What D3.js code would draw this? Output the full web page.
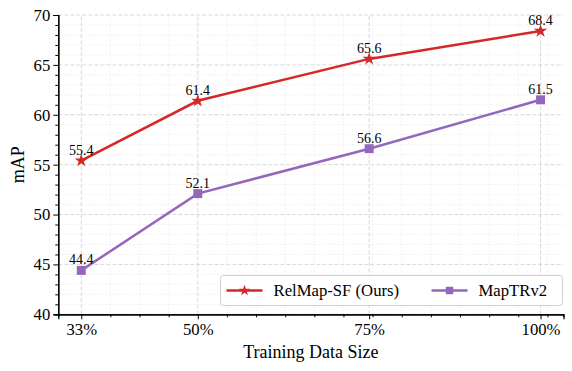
<!DOCTYPE html>
<html>
<head>
<meta charset="utf-8">
<script src="https://cdn.jsdelivr.net/npm/d3@7"></script>
<style>
body { margin: 0; background: #fff; }
text { font-family: "Liberation Serif", "Times New Roman", serif; fill: #000; }
</style>
</head>
<body>
<div id="chart"></div>
<script>
var width = 572, height = 371;
var margin = {left: 58.3, right: 8.5, top: 15, bottom: 56.7};

// data
var sizes = [33, 50, 75, 100];
var sizeLabels = ["33%", "50%", "75%", "100%"];
var relmap = [55.4, 61.4, 65.6, 68.4];
var maptr = [44.4, 52.1, 56.6, 61.5];
var yTicks = [40, 45, 50, 55, 60, 65, 70];
var seriesNames = ["RelMap-SF (Ours)", "MapTRv2"];
var seriesColors = ["#d62728", "#9467bd"];

var x = d3.scaleLinear().domain([29.65, 103.35]).range([margin.left, width - margin.right]);
var y = d3.scaleLinear().domain([40, 70]).range([height - margin.bottom, margin.top]);

var svg = d3.select("#chart").append("svg")
  .attr("width", width)
  .attr("height", height);

// minor ticks: x every quarter of first major step, y every 1
var xMinor = d3.range(33, 103.35, 4.25).filter(function(v) { return sizes.indexOf(v) < 0; });
var yMinor = d3.range(40, 70.01, 1).filter(function(v) { return v % 5 !== 0; });

var grid = svg.append("g");
grid.selectAll(".xmin").data(xMinor).enter().append("line")
  .attr("x1", function(d) { return x(d); }).attr("x2", function(d) { return x(d); })
  .attr("y1", y(40)).attr("y2", y(70))
  .attr("stroke", "#e3e3e3").attr("stroke-width", 0.8).attr("stroke-dasharray", "1,2");
grid.selectAll(".ymin").data(yMinor).enter().append("line")
  .attr("x1", x.range()[0]).attr("x2", x.range()[1])
  .attr("y1", function(d) { return y(d); }).attr("y2", function(d) { return y(d); })
  .attr("stroke", "#e3e3e3").attr("stroke-width", 0.8).attr("stroke-dasharray", "1,2");
grid.selectAll(".xmaj").data(sizes).enter().append("line")
  .attr("x1", function(d) { return x(d); }).attr("x2", function(d) { return x(d); })
  .attr("y1", y(40)).attr("y2", y(70))
  .attr("stroke", "#cfcfcf").attr("stroke-width", 0.8).attr("stroke-dasharray", "4,2");
grid.selectAll(".ymaj").data(yTicks).enter().append("line")
  .attr("x1", x.range()[0]).attr("x2", x.range()[1])
  .attr("y1", function(d) { return y(d); }).attr("y2", function(d) { return y(d); })
  .attr("stroke", "#cfcfcf").attr("stroke-width", 0.8).attr("stroke-dasharray", "4,2");

// axes
svg.append("g")
  .attr("transform", "translate(0," + y(40) + ")")
  .call(d3.axisBottom(x).tickValues(sizes).tickFormat(function(d, i) { return sizeLabels[i]; }).tickSizeOuter(0).tickSize(5).tickPadding(4));
svg.append("g")
  .attr("transform", "translate(0," + y(40) + ")")
  .call(d3.axisBottom(x).tickValues(xMinor).tickFormat("").tickSizeOuter(0).tickSize(3));
svg.append("g")
  .attr("transform", "translate(" + x.range()[0] + ",0)")
  .call(d3.axisLeft(y).tickValues(yTicks).tickSizeOuter(0).tickSize(5).tickPadding(3));
svg.append("g")
  .attr("transform", "translate(" + x.range()[0] + ",0)")
  .call(d3.axisLeft(y).tickValues(yMinor).tickFormat("").tickSizeOuter(0).tickSize(3));
svg.selectAll(".domain").attr("stroke", "#000").attr("stroke-width", 1.2);
svg.selectAll(".tick line").attr("stroke", "#000").attr("stroke-width", 1);
svg.selectAll(".tick text").style("font-family", "Liberation Serif").style("font-size", "16.7px");

// axis titles
svg.append("text")
  .attr("x", (x.range()[0] + x.range()[1]) / 2)
  .attr("y", 358)
  .attr("text-anchor", "middle")
  .style("font-size", "18px")
  .text("Training Data Size");
svg.append("text")
  .attr("transform", "translate(24," + y(55) + ") rotate(-90)")
  .attr("text-anchor", "middle")
  .style("font-size", "18px")
  .text("mAP");

// lines
var series = [relmap, maptr];
var symbols = [d3.symbolStar, d3.symbolSquare];
var symbolSizes = [55, 80];
var line = d3.line().x(function(d, i) { return x(sizes[i]); }).y(function(d) { return y(d); });

series.forEach(function(vals, s) {
  var g = svg.append("g");
  g.append("path").datum(vals)
    .attr("d", line)
    .attr("fill", "none")
    .attr("stroke", seriesColors[s])
    .attr("stroke-width", 2.5);
  g.selectAll("path.m").data(vals).enter().append("path")
    .attr("class", "m")
    .attr("transform", function(d, i) { return "translate(" + x(sizes[i]) + "," + y(d) + ")"; })
    .attr("d", d3.symbol().type(symbols[s]).size(symbolSizes[s]))
    .attr("fill", seriesColors[s]);
  g.selectAll("text").data(vals).enter().append("text")
    .attr("x", function(d, i) { return x(sizes[i]); })
    .attr("y", function(d) { return y(d) - 6; })
    .attr("text-anchor", "middle")
    .style("font-size", "14px")
    .text(function(d) { return d.toFixed(1); });
});

// legend
var legend = svg.append("g").attr("transform", "translate(220.5,275.5)");
legend.append("rect")
  .attr("width", 342).attr("height", 30)
  .attr("rx", 3)
  .attr("fill", "#fff").attr("fill-opacity", 0.9)
  .attr("stroke", "#d0d0d0").attr("stroke-width", 1);
var legendX = [6, 211];
seriesNames.forEach(function(name, s) {
  var lg = legend.append("g").attr("transform", "translate(" + legendX[s] + ",15)");
  lg.append("line").attr("x1", 0).attr("x2", 36)
    .attr("stroke", seriesColors[s]).attr("stroke-width", 2.5);
  lg.append("path")
    .attr("transform", "translate(18,0)")
    .attr("d", d3.symbol().type(symbols[s]).size(symbolSizes[s] * 0.7))
    .attr("fill", seriesColors[s]);
  lg.append("text")
    .attr("x", 47).attr("y", 5.5)
    .style("font-size", "16.7px")
    .text(name);
});
</script>
</body>
</html>
